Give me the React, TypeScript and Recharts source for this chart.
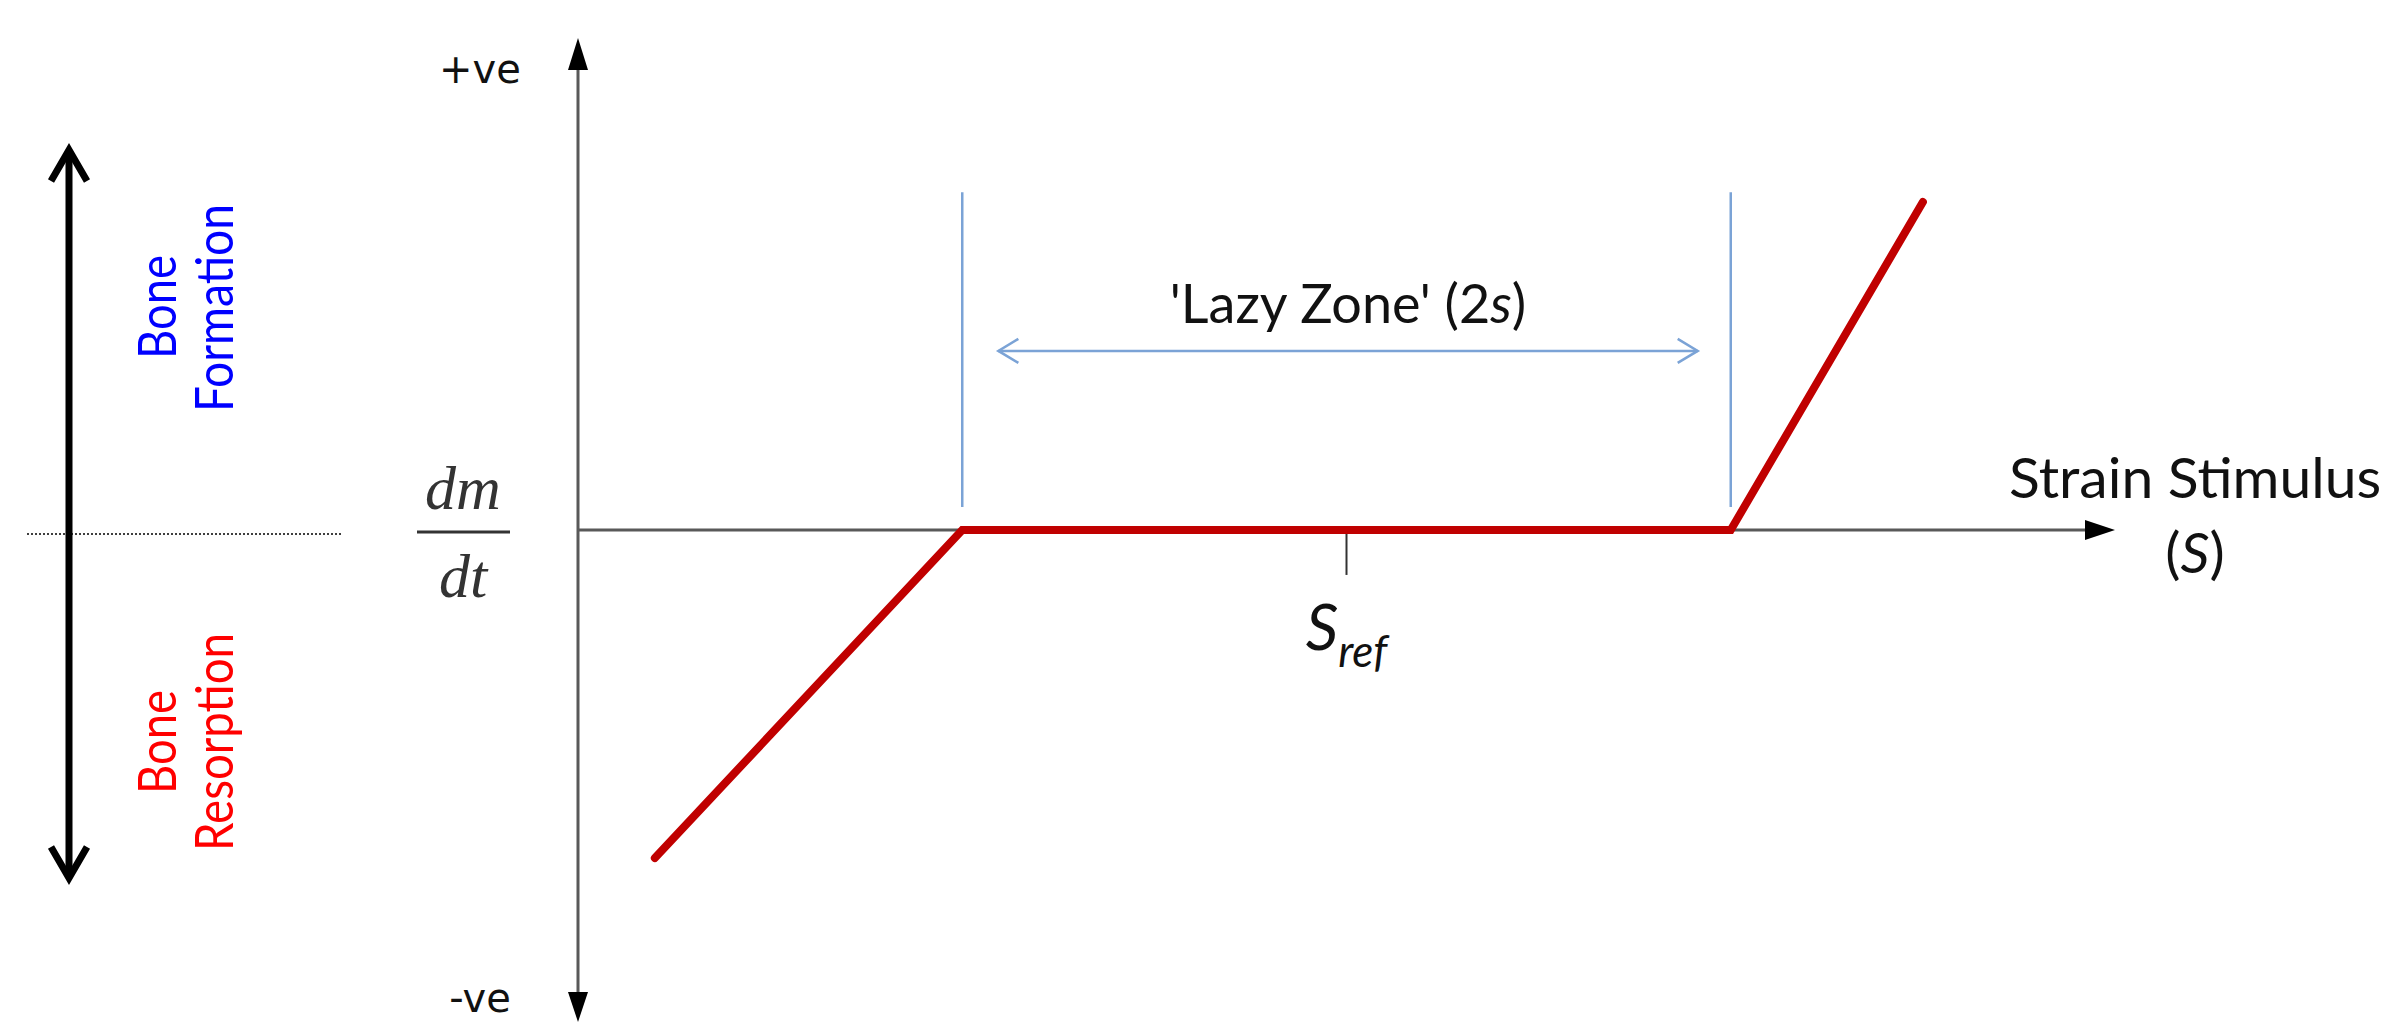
import React from "react"
import { LineChart, Line, XAxis, YAxis, ReferenceLine } from "recharts"

// strain stimulus S (Sref = 2, half lazy-zone width s = 1) against dm/dt
const stimulus = [0.2, 1, 3, 3.5]
const boneRate = [-1, 0, 0, 1]
const sRef = 2
const lazyZone = [1, 3]
const lazyZoneSpan = [0.07, 1.03]
const lazyArrow = [1.094, 2.914]
const lazyArrowLevel = 0.546
const xDomain = [0, 4]
const yDomain = [-1.5, 1.5]
const yTicks = [-1.5, 0, 1.5]

const data = stimulus.map((s, i) => ({ s, rate: boneRate[i] }))

const AXIS = "#595959"
const RED = "#C00000"
const BLUE = "#7BA3D6"
const SANS = "Lato, 'Noto Sans', sans-serif"

function RateTick({ x, y, payload }: any) {
  if (payload.value > 0) {
    return (
      <text x={x - 98} y={y + 45} textAnchor="middle" fontFamily="'DejaVu Sans'" fontSize={40} fill="#111">
        +ve
      </text>
    )
  }
  if (payload.value < 0) {
    return (
      <text x={x - 98} y={y - 10} textAnchor="middle" fontFamily="'DejaVu Sans'" fontSize={40} fill="#111">
        -ve
      </text>
    )
  }
  return (
    <g fill="#333" fontFamily="'Liberation Serif', serif" fontStyle="italic" fontSize={62}>
      <text x={x - 115} y={y - 21} textAnchor="middle">dm</text>
      <line x1={x - 161} x2={x - 68} y1={y + 2} y2={y + 2} stroke="#333" strokeWidth={3} />
      <text x={x - 115} y={y + 67} textAnchor="middle">dt</text>
    </g>
  )
}

function StimulusAxis({ x1, y1, x2 }: any) {
  return (
    <g>
      <line x1={x1} y1={y1} x2={x2 - 26} y2={y1} stroke={AXIS} strokeWidth={3} />
      <polygon points={`${x2},${y1} ${x2 - 30},${y1 - 10} ${x2 - 30},${y1 + 10}`} fill="#000" />
      <text x={x2 - 106} y={y1 - 32} fontFamily={SANS} fontSize={57} fill="#111">
        Strain Stimulus
      </text>
      <text x={x2 + 80} y={y1 + 43} textAnchor="middle" fontFamily={SANS} fontSize={57} fill="#111">
        (<tspan fontStyle="italic">S</tspan>)
      </text>
    </g>
  )
}

function RateAxis({ x1, y1, y2 }: any) {
  return (
    <g>
      <line x1={x1} y1={y1 + 28} x2={x1} y2={y2 - 28} stroke={AXIS} strokeWidth={3} />
      <polygon points={`${x1},${y1} ${x1 - 10},${y1 + 32} ${x1 + 10},${y1 + 32}`} fill="#000" />
      <polygon points={`${x1},${y2} ${x1 - 10},${y2 - 30} ${x1 + 10},${y2 - 30}`} fill="#000" />
    </g>
  )
}

function RefTick({ x1, y1, y2 }: any) {
  return (
    <g>
      <line x1={x1} y1={y1 + 3} x2={x1} y2={y2} stroke="#333" strokeWidth={2} />
      <text x={x1} y={y2 + 75} textAnchor="middle" fontFamily={SANS} fontStyle="italic" fill="#111">
        <tspan fontSize={64}>S</tspan>
        <tspan fontSize={44} dy={17}>ref</tspan>
      </text>
    </g>
  )
}

function LazyArrow({ x1, y1, x2 }: any) {
  return (
    <g stroke={BLUE} strokeWidth={2.5} fill="none">
      <line x1={x1} y1={y1} x2={x2} y2={y1} />
      <polyline points={`${x1 + 20},${y1 - 12} ${x1},${y1} ${x1 + 20},${y1 + 12}`} />
      <polyline points={`${x2 - 20},${y1 - 12} ${x2},${y1} ${x2 - 20},${y1 + 12}`} />
      <text
        x={(x1 + x2) / 2}
        y={y1 - 28}
        textAnchor="middle"
        fontFamily={SANS}
        fontSize={54}
        fill="#111"
        stroke="none"
      >
        'Lazy Zone' (2<tspan fontStyle="italic">s</tspan>)
      </text>
    </g>
  )
}

function BoneLegend() {
  return (
    <svg width={360} height={1023} style={{ position: "absolute", left: 0, top: 0 }}>
      <line x1={27} x2={341} y1={534} y2={534} stroke="#000" strokeWidth={1.5} strokeDasharray="2 2" />
      <g stroke="#000" strokeWidth={7} fill="none">
        <line x1={69} x2={69} y1={150} y2={878} />
        <polyline points="51,181 69,150 87,181" />
        <polyline points="51,847 69,878 87,847" />
      </g>
      <g fontFamily={SANS} fontSize={53} textAnchor="middle">
        <text transform="translate(176,307) rotate(-90)" fill="#0000FF" textLength={104} lengthAdjust="spacingAndGlyphs">
          Bone
        </text>
        <text transform="translate(233,308) rotate(-90)" fill="#0000FF" textLength={208} lengthAdjust="spacingAndGlyphs">
          Formation
        </text>
        <text transform="translate(176,742) rotate(-90)" fill="#FF0000" textLength={104} lengthAdjust="spacingAndGlyphs">
          Bone
        </text>
        <text transform="translate(233,742) rotate(-90)" fill="#FF0000" textLength={218} lengthAdjust="spacingAndGlyphs">
          Resorption
        </text>
      </g>
    </svg>
  )
}

export default function App() {
  return (
    <div style={{ position: "absolute", left: 0, top: 0, width: 2386, height: 1023, background: "#fff", overflow: "hidden" }}>
      <LineChart width={2386} height={1023} data={data} margin={{ top: 38, right: 271, bottom: 1, left: 378 }}>
        <XAxis dataKey="s" type="number" domain={xDomain} hide />
        <YAxis
          type="number"
          domain={yDomain}
          ticks={yTicks}
          width={200}
          axisLine={false}
          tickLine={false}
          tickSize={0}
          tickMargin={0}
          tick={<RateTick />}
          interval={0}
        />
        <ReferenceLine segment={[{ x: xDomain[0], y: yDomain[1] }, { x: xDomain[0], y: yDomain[0] }]} shape={RateAxis} />
        <ReferenceLine segment={[{ x: xDomain[0], y: 0 }, { x: xDomain[1], y: 0 }]} shape={StimulusAxis} />
        <ReferenceLine segment={[{ x: sRef, y: 0 }, { x: sRef, y: -0.137 }]} shape={RefTick} />
        {lazyZone.map((z) => (
          <ReferenceLine
            key={z}
            segment={[{ x: z, y: lazyZoneSpan[0] }, { x: z, y: lazyZoneSpan[1] }]}
            stroke={BLUE}
            strokeWidth={2.5}
          />
        ))}
        <ReferenceLine
          segment={[{ x: lazyArrow[0], y: lazyArrowLevel }, { x: lazyArrow[1], y: lazyArrowLevel }]}
          shape={LazyArrow}
        />
        <Line
          type="linear"
          dataKey="rate"
          stroke={RED}
          strokeWidth={8}
          strokeLinecap="round"
          dot={false}
          activeDot={false}
          isAnimationActive={false}
        />
      </LineChart>
      <BoneLegend />
    </div>
  )
}
